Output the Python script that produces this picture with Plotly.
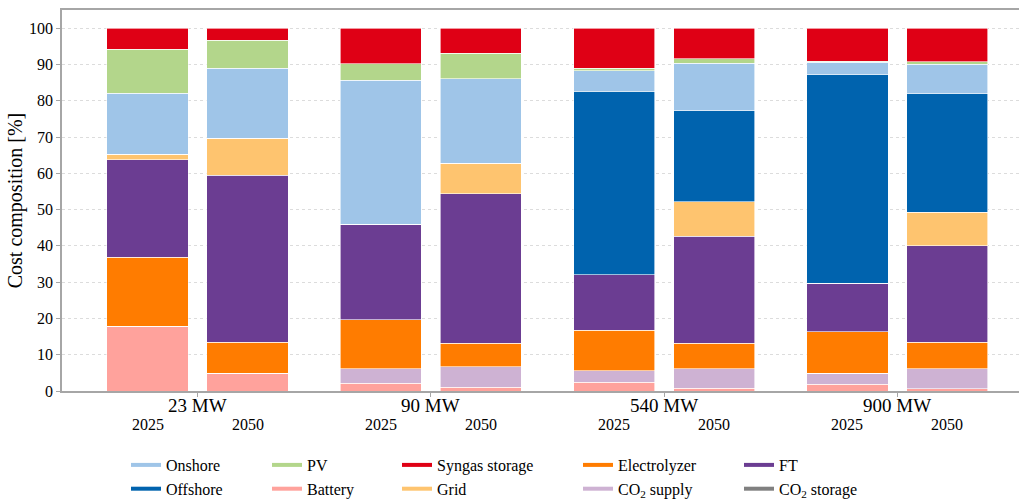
import plotly.graph_objects as go

# Plant sizes and scenario years
groups = ["23 MW", "90 MW", "540 MW", "900 MW"]
years = ["2025", "2050"]

# Cost shares [%] per bar, ordered 23 MW 2025, 23 MW 2050, 90 MW 2025, ...
battery = [17.9, 4.9, 2.1, 1.0, 2.4, 0.7, 1.8, 0.6]
co2_supply = [0.0, 0.0, 4.0, 5.7, 3.2, 5.5, 3.1, 5.5]
co2_storage = [0.0, 0.0, 0.0, 0.0, 0.0, 0.0, 0.0, 0.0]
electrolyzer = [18.9, 8.5, 13.5, 6.5, 11.2, 7.0, 11.4, 7.3]
ft = [26.9, 46.1, 26.3, 41.2, 15.2, 29.4, 13.4, 26.6]
grid = [1.5, 10.1, 0.0, 8.4, 0.0, 9.6, 0.0, 9.3]
offshore = [0.0, 0.0, 0.0, 0.0, 50.6, 25.0, 57.4, 32.6]
onshore = [16.9, 19.3, 39.7, 23.3, 5.6, 13.1, 3.5, 8.1]
pv = [12.1, 7.8, 4.6, 7.0, 0.7, 1.2, 0.3, 0.7]
syngas_storage = [5.8, 3.3, 9.8, 6.9, 11.1, 8.5, 9.1, 9.3]

# Stacking order (bottom to top)
components = [
    ("Battery", battery, "#FFA29C"),
    ("CO<sub>2</sub> supply", co2_supply, "#CEB2D3"),
    ("CO<sub>2</sub> storage", co2_storage, "#808080"),
    ("Electrolyzer", electrolyzer, "#FF7C00"),
    ("FT", ft, "#6B3D92"),
    ("Grid", grid, "#FEC46F"),
    ("Offshore", offshore, "#0063AE"),
    ("Onshore", onshore, "#9FC5E8"),
    ("PV", pv, "#B3D68B"),
    ("Syngas storage", syngas_storage, "#DF0015"),
]
colors = {name: c for name, _, c in components}

FONT = "Liberation Serif, Times New Roman, serif"

offset = 0.2143
bar_w = 0.348
xpos = []
for gi, _ in enumerate(groups):
    for yi, _ in enumerate(years):
        xpos.append(gi + (-offset if yi == 0 else offset))

fig = go.Figure()
for name, vals, col in components:
    fig.add_trace(go.Bar(
        x=xpos, y=vals, width=bar_w, name=name,
        marker=dict(color=col, line=dict(color="white", width=0.6)),
        showlegend=False,
    ))

# Legend laid out in five columns of two entries, drawn with line samples
legend_cols = [
    ("Onshore", "Offshore"),
    ("PV", "Battery"),
    ("Syngas storage", "Grid"),
    ("Electrolyzer", "CO<sub>2</sub> supply"),
    ("FT", "CO<sub>2</sub> storage"),
]
col_px = [126, 267, 397, 578, 739]
W = 1019
L, R, T, B = 62, 0, 10, 109
pw = W - L - R
ph = 500 - T - B

layout_legends = {}
for ci, (names, px) in enumerate(zip(legend_cols, col_px)):
    key = "legend" if ci == 0 else f"legend{ci + 1}"
    for n in names:
        fig.add_trace(go.Scatter(
            x=[None], y=[None], mode="lines", name=n,
            line=dict(color=colors[n], width=4),
            legend=key, showlegend=True,
        ))
    layout_legends[key] = dict(
        x=(px - L) / pw, xanchor="left",
        y=(391 - 448) / ph, yanchor="top",
        orientation="v", bgcolor="rgba(0,0,0,0)", traceorder="normal",
        font=dict(size=16, color="black", family=FONT),
        tracegroupgap=0,
    )

# Group labels under the axis, year labels under each bar
for gi, g in enumerate(groups):
    fig.add_annotation(
        x=gi, y=(391 - 405) / ph, xref="x", yref="paper",
        text=g, showarrow=False,
        font=dict(size=19, color="black", family=FONT),
        yanchor="middle",
    )
for i, xv in enumerate(xpos):
    fig.add_annotation(
        x=xv, y=(391 - 425) / ph, xref="x", yref="paper",
        text=years[i % 2], showarrow=False,
        font=dict(size=16, color="black", family=FONT),
        yanchor="middle",
    )

axis_col = "#A6A6A6"
fig.update_layout(
    width=W, height=500,
    margin=dict(l=L, r=R, t=T, b=B, pad=0, autoexpand=False),
    barmode="stack",
    plot_bgcolor="white", paper_bgcolor="white",
    font=dict(family=FONT, color="black"),
    xaxis=dict(
        range=[(L - 197.5) / 233.3, (W - 197.5) / 233.3],
        tickvals=list(range(len(groups))), showticklabels=False,
        ticks="outside", ticklen=4, tickcolor=axis_col,
        showline=True, linecolor=axis_col, linewidth=1.5, mirror=True,
        showgrid=False, zeroline=False,
    ),
    yaxis=dict(
        range=[0, 105],
        tickvals=list(range(0, 101, 10)),
        ticks="outside", ticklen=4, tickcolor=axis_col,
        tickfont=dict(size=16, color="black", family=FONT),
        showline=True, linecolor=axis_col, linewidth=1.5,
        showgrid=True, gridcolor="#DCDCDC", gridwidth=0.8, griddash="dot",
        zeroline=False,
        title=dict(text="Cost composition [%]", font=dict(size=20, family=FONT), standoff=1),
    ),
    **layout_legends,
)

fig.write_html("out.html")
